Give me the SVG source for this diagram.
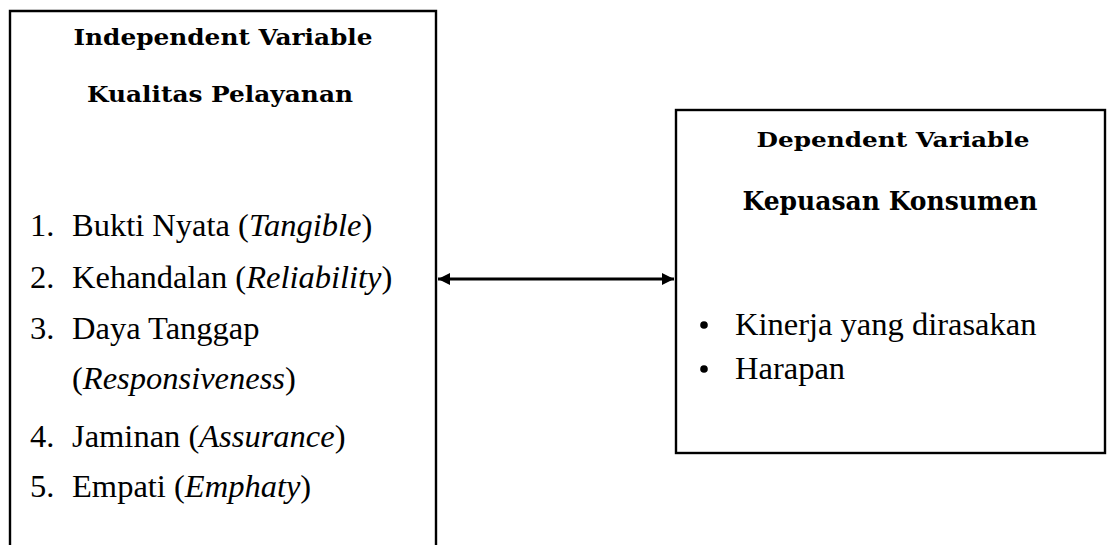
<svg xmlns="http://www.w3.org/2000/svg" width="1112" height="545" viewBox="0 0 1112 545">
  <style>
    .box { fill: none; stroke: #000; stroke-width: 2.4; }
    .hd { font-family: "DejaVu Serif", "Liberation Serif", serif; font-weight: bold; fill: #000; text-anchor: middle; }
    .tx { font-family: "Liberation Serif", "Times New Roman", serif; font-size: 32.5px; fill: #000; }
    .it { font-style: italic; }
    .conn { stroke: #000; stroke-width: 3; fill: none; }
  </style>
  <defs>
    <marker id="ah" viewBox="0 0 10 10" refX="10" refY="5" markerWidth="4.6" markerHeight="4" orient="auto-start-reverse" markerUnits="strokeWidth">
      <path d="M0,0 L10,5 L0,10 Z" fill="#000"/>
    </marker>
  </defs>
  <rect width="1112" height="545" fill="#fff"/>

  <g id="node-independent">
    <path class="box" d="M10,546 L10,11 L436,11 L436,546"/>
    <text class="hd" x="223" y="45" font-size="21.5" textLength="299" lengthAdjust="spacingAndGlyphs">Independent Variable</text>
    <text class="hd" x="220" y="102" font-size="23" textLength="266" lengthAdjust="spacingAndGlyphs">Kualitas Pelayanan</text>
    <text class="tx" x="30" y="236">1.</text>
    <text class="tx" x="72" y="236">Bukti Nyata (<tspan class="it">Tangible</tspan>)</text>
    <text class="tx" x="30" y="288">2.</text>
    <text class="tx" x="72" y="288">Kehandalan (<tspan class="it">Reliability</tspan>)</text>
    <text class="tx" x="30" y="339">3.</text>
    <text class="tx" x="72" y="339">Daya Tanggap</text>
    <text class="tx" x="72" y="389">(<tspan class="it">Responsiveness</tspan>)</text>
    <text class="tx" x="30" y="447">4.</text>
    <text class="tx" x="72" y="447">Jaminan (<tspan class="it">Assurance</tspan>)</text>
    <text class="tx" x="30" y="497">5.</text>
    <text class="tx" x="72" y="497">Empati (<tspan class="it">Emphaty</tspan>)</text>
  </g>

  <g id="node-dependent">
    <rect class="box" x="676" y="110" width="429" height="343"/>
    <text class="hd" x="893" y="147" font-size="21" textLength="273" lengthAdjust="spacingAndGlyphs">Dependent Variable</text>
    <text class="hd" x="890" y="210" font-size="26" textLength="295" lengthAdjust="spacingAndGlyphs">Kepuasan Konsumen</text>
    <circle cx="704" cy="325" r="3.8" fill="#000"/>
    <text class="tx" x="735" y="335">Kinerja yang dirasakan</text>
    <circle cx="704" cy="369" r="3.8" fill="#000"/>
    <text class="tx" x="735" y="379">Harapan</text>
  </g>

  <g id="connectors">
    <line class="conn" x1="438" y1="279" x2="674" y2="279" marker-start="url(#ah)" marker-end="url(#ah)"/>
  </g>
</svg>
